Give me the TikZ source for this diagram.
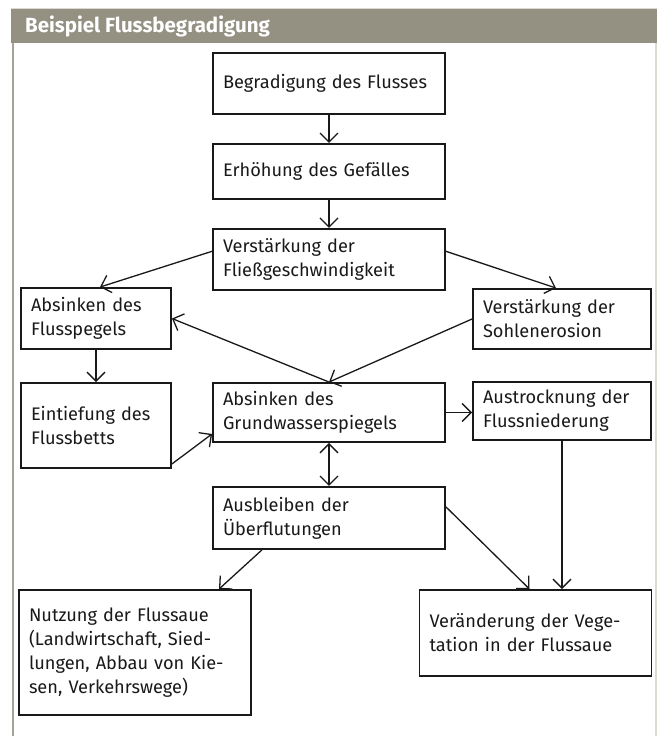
\documentclass[tikz,border=0pt]{standalone}
\usepackage{fontspec}
\setmainfont{Fira Sans}
\usepackage{xcolor}
\definecolor{headGray}{RGB}{148,145,130}
\definecolor{frameGray}{RGB}{165,162,150}
\definecolor{lightGray}{RGB}{218,218,211}
\definecolor{darkLine}{RGB}{25,25,25}
\usetikzlibrary{arrows.meta, positioning, calc}
\tikzset{
    base/.style={draw=darkLine, line width=1.9pt, rectangle, inner xsep=10pt, inner ysep=0pt, align=left, text=darkLine, font=\fontsize{18.2}{24}\selectfont},
    midbox/.style={base, minimum width=232pt, text width=212pt},
    sidebox/.style={base, minimum width=150pt, text width=130pt},
    rightbox/.style={base, minimum width=178pt, text width=158pt},
    arrow/.style={-{Straight Barb[length=9pt,width=18pt]}, line width=1.3pt, draw=darkLine},
    dblarrow/.style={arrow, {Straight Barb[length=9pt,width=18pt]}-{Straight Barb[length=9pt,width=18pt]}}
}

\begin{document}
\begin{tikzpicture}[x=1pt, y=-1pt]
    \useasboundingbox (0,0) rectangle (657,736);
    % --- FRAME ---
    \fill[headGray] (11,9) rectangle (657,43);
    \draw[lightGray, line width=1pt] (11,8) -- (657,8);
    \draw[frameGray, line width=2pt] (12.5,43) -- (12.5,736);
    \draw[lightGray, line width=1.5pt] (656,43) -- (656,736);
    \node[anchor=west, inner sep=0pt, text=white, font=\bfseries\fontsize{20.5}{22}\selectfont] (title) at (25,26) {Beispiel Flussbegradigung};

    % --- MAIN COLUMN ---
    \node[midbox, minimum height=61pt] (beg) at (329,83.5) {Begradigung des Flusses};
    \node[midbox, minimum height=55pt, below=28pt of beg] (erh) {Erhöhung des Gefälles};
    \node[midbox, minimum height=61pt, below=28pt of erh] (fliess) {Verstärkung der\\Fließgeschwindigkeit};
    \node[midbox, minimum height=59pt] (grund) at (329,412.5) {Absinken des\\Grundwasserspiegels};
    \node[midbox, minimum height=62pt, below=43pt of grund] (ausbl) {Ausbleiben der\\Überflutungen};

    % --- SIDE BOXES ---
    \node[sidebox, minimum height=61pt] (pegel) at (96,318.5) {Absinken des\\Flusspegels};
    \node[sidebox, minimum height=85pt] (eintief) at (96,425.5) {Eintiefung des\\Flussbetts};
    \node[rightbox, minimum height=60pt] (sohle) at (562,319) {Verstärkung der\\Sohlenerosion};
    \node[rightbox, minimum height=58pt] (austr) at (562,411) {Austrocknung der\\Flussniederung};

    % --- BOTTOM ---
    \node[midbox, minimum height=125pt] (nutz) at (135,652.5) {Nutzung der Flussaue\\(Landwirtschaft, Sied-\\lungen, Abbau von Kie-\\sen, Verkehrswege)};
    \node[midbox, minimum height=86pt] (veraend) at (535.5,633) {Veränderung der Vege-\\tation in der Flussaue};

    % --- CONNECTORS ---
    \draw[arrow] (beg) -- (erh);
    \draw[arrow] (erh) -- (fliess);
    \draw[arrow] ([yshift=8pt]fliess.west) -- ([xshift=4pt]pegel.north);
    \draw[arrow] ([yshift=8pt]fliess.east) -- ([xshift=-6pt]sohle.north);
    \draw[arrow] (sohle.west) -- (grund.north);
    \draw[arrow] (grund.north) -- (pegel.east);
    \draw[arrow] (pegel) -- (eintief);
    \draw[arrow] ([yshift=5pt]eintief.south east) -- ([yshift=9pt]grund.south west);
    \draw[arrow] (grund.east) -- (grund.east -| austr.west);
    \draw[dblarrow] (grund) -- (ausbl);
    \draw[arrow] ([xshift=-67pt]ausbl.south) -- ([xshift=84pt]nutz.north);
    \draw[arrow] ([yshift=11pt]ausbl.east) -- ([xshift=-6pt]veraend.north);
    \draw[arrow] (austr.south) -- (austr.south |- veraend.north);
\end{tikzpicture}
\end{document}
